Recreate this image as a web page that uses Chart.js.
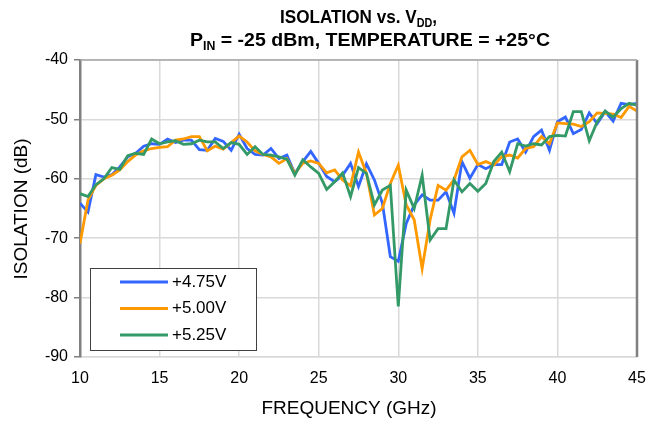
<!DOCTYPE html>
<html><head><meta charset="utf-8">
<script src="https://cdn.jsdelivr.net/npm/chart.js@4/dist/chart.umd.min.js"></script>
<style>html,body{margin:0;padding:0;background:#fff;}#wrap{width:659px;height:425px;}</style>
</head><body><div id="wrap"><canvas id="c" width="659" height="425"></canvas></div>
<script>
const frequencyGHz = [10,10.5,11,11.5,12,12.5,13,13.5,14,14.5,15,15.5,16,16.5,17,17.5,18,18.5,19,19.5,20,20.5,21,21.5,22,22.5,23,23.5,24,24.5,25,25.5,26,26.5,27,27.5,28,28.5,29,29.5,30,30.5,31,31.5,32,32.5,33,33.5,34,34.5,35,35.5,36,36.5,37,37.5,38,38.5,39,39.5,40,40.5,41,41.5,42,42.5,43,43.5,44,44.5,45];
const iso475 = [-64.1,-65.6,-59.3,-59.7,-59.3,-58.0,-56.3,-55.7,-54.5,-54.1,-54.2,-53.3,-53.9,-53.5,-53.5,-55.1,-55.2,-53.2,-53.7,-55.2,-52.5,-54.9,-55.9,-56.0,-54.9,-56.6,-56.0,-59.1,-57.1,-55.4,-57.4,-59.6,-60.5,-59.4,-57.4,-61.3,-57.5,-60.2,-64.1,-73.1,-73.9,-67.5,-64.4,-62.7,-63.6,-63.6,-62.2,-65.8,-57.1,-59.9,-57.6,-58.3,-57.6,-57.6,-53.8,-53.3,-55.5,-52.9,-51.8,-55.2,-50.4,-49.6,-52.4,-51.7,-48.9,-50.7,-48.7,-50.3,-47.3,-47.5,-47.3];
const iso500 = [-70.9,-63.6,-61.1,-60.0,-59.4,-58.5,-57.1,-56.0,-55.3,-54.9,-54.7,-54.6,-53.5,-53.3,-52.9,-52.9,-55.3,-54.5,-55.0,-53.9,-52.8,-53.8,-55.3,-55.9,-56.3,-57.4,-56.6,-59.1,-57.4,-57.0,-57.4,-59.0,-58.5,-60.2,-61.2,-55.5,-59.1,-66.1,-65.0,-60.8,-57.7,-64.4,-66.9,-75.1,-66.9,-61.1,-61.9,-60.2,-56.3,-55.2,-57.6,-57.1,-57.7,-56.3,-56.0,-56.5,-54.9,-54.6,-52.9,-54.1,-50.6,-50.7,-50.8,-51.2,-50.4,-48.9,-49.0,-49.1,-49.7,-47.8,-48.6];
const iso525 = [-62.5,-63.0,-61.0,-60.0,-58.1,-58.4,-56.1,-55.7,-55.9,-53.3,-54.1,-53.8,-53.6,-54.2,-54.1,-53.5,-53.8,-53.8,-54.9,-53.9,-54.2,-55.9,-54.6,-55.9,-56.0,-56.3,-56.7,-59.4,-56.8,-58.0,-59.1,-61.8,-60.5,-59.0,-63.0,-58.1,-59.1,-64.4,-61.9,-61.1,-81.5,-61.9,-65.0,-59.4,-70.3,-68.4,-68.4,-60.2,-62.2,-60.8,-62.1,-60.8,-57.1,-55.5,-58.8,-54.1,-54.5,-54.1,-54.3,-52.9,-52.7,-52.8,-48.7,-48.7,-53.6,-50.4,-48.6,-49.6,-48.2,-47.3,-47.6];
const seriesLabels = ['+4.75V','+5.00V','+5.25V'];
const seriesColors = ['#3366ff','#ff9900','#339966'];
const xTicks = [10,15,20,25,30,35,40,45];
const yTicks = [-90,-80,-70,-60,-50,-40];
const titleLine1 = [['ISOLATION vs. V',false],['DD',true],[',',false]];
const titleLine2 = [['P',false],['IN',true],[' = -25 dBm, TEMPERATURE = +25°C',false]];
const xTitle = 'FREQUENCY (GHz)';
const yTitle = 'ISOLATION (dB)';

const FONT = '"Liberation Sans", Arial, sans-serif';
const toPts = arr => frequencyGHz.map((f,i)=>({x:f,y:arr[i]}));
const seriesValues = [iso475, iso500, iso525];

const titlePlugin = {
  id:'subTitle',
  afterDraw(chart){
    const ctx = chart.ctx;
    const drawLine = (segs, baseY, left, targetW) => {
      let total = 0;
      segs.forEach(([t,sub])=>{ ctx.font = 'bold '+(sub?12:19)+'px '+FONT; total += ctx.measureText(t).width; });
      ctx.save();
      ctx.translate(left, baseY);
      ctx.scale(targetW/total, 1);
      let x = 0;
      segs.forEach(([t,sub])=>{
        ctx.font = 'bold '+(sub?12:19)+'px '+FONT;
        ctx.fillStyle = '#000'; ctx.textBaseline = 'alphabetic'; ctx.textAlign='left';
        ctx.fillText(t, x, sub?4:0);
        x += ctx.measureText(t).width;
      });
      ctx.restore();
    };
    drawLine(titleLine1, 23, 280, 157);
    drawLine(titleLine2, 46, 190, 360);
    // axis titles
    ctx.save();
    ctx.fillStyle = '#000';
    ctx.font = '19px '+FONT; ctx.textAlign='center'; ctx.textBaseline='middle';
    ctx.fillText(xTitle, 349, 409);
    ctx.translate(22, 209); ctx.rotate(-Math.PI/2);
    ctx.fillText(yTitle, 0, 0);
    ctx.restore();
  }
};

const framePlugin = {
  id:'frame',
  afterDatasetsDraw(chart){
    const {ctx, chartArea:a} = chart;
    ctx.save();
    ctx.strokeStyle = '#808080'; ctx.lineWidth = 2.5;
    ctx.beginPath(); ctx.moveTo(a.right, a.top); ctx.lineTo(a.right, a.bottom); ctx.stroke();
    ctx.strokeStyle = '#a6a6a6'; ctx.lineWidth = 1.5;
    ctx.beginPath(); ctx.moveTo(a.left, a.top); ctx.lineTo(a.right, a.top); ctx.stroke();
    ctx.restore();
  },
  afterDraw(chart){
    const {ctx} = chart;
    const bx = 90, by = 268, bw = 166, bh = 82;
    ctx.save();
    ctx.fillStyle = '#fff'; ctx.fillRect(bx, by, bw, bh);
    ctx.strokeStyle = '#404040'; ctx.lineWidth = 1;
    ctx.strokeRect(bx+0.5, by+0.5, bw, bh);
    ctx.font = '17px '+FONT; ctx.textBaseline = 'middle'; ctx.textAlign='left';
    seriesLabels.forEach((lab,i)=>{
      const y = 282 + i*26.5;
      ctx.strokeStyle = seriesColors[i]; ctx.lineWidth = 3;
      ctx.beginPath(); ctx.moveTo(120, y); ctx.lineTo(168, y); ctx.stroke();
      ctx.fillStyle = '#000'; ctx.fillText(lab, 172, y);
    });
    ctx.restore();
  }
};

const datasets = seriesValues.map((vals,i)=>({
  label: seriesLabels[i],
  data: toPts(vals),
  borderColor: seriesColors[i],
  backgroundColor: seriesColors[i],
  borderWidth: 2.8,
  pointRadius: 0,
  tension: 0,
  fill: false,
  order: 2 - i
}));

new Chart(document.getElementById('c'), {
  type: 'line',
  data: { datasets },
  options: {
    responsive: false,
    animation: false,
    devicePixelRatio: 1,
    layout: { padding: { top: 60, right: 22, left: 0, bottom: 0 } },
    plugins: { legend: { display: false }, tooltip: { enabled: false }, title: { display: false } },
    scales: {
      x: {
        type: 'linear', min: 10, max: 45,
        afterBuildTicks: s => { s.ticks = xTicks.map(v=>({value:v})); },
        afterFit: s => { s.height = 68; },
        ticks: { font: { size: 16, family: FONT }, color: '#000', padding: 12, maxRotation: 0 },
        grid: { color: '#d9d9d9', lineWidth: 1.5, drawTicks: false },
        border: { color: '#d9d9d9', width: 1.5 }
      },
      y: {
        type: 'linear', min: -90, max: -40,
        afterBuildTicks: s => { s.ticks = yTicks.map(v=>({value:v})); },
        afterFit: s => { s.width = 80; },
        ticks: { font: { size: 16, family: FONT }, color: '#000', padding: 6 },
        grid: { color: '#d9d9d9', lineWidth: 1.5, tickLength: 6, tickColor: '#808080', tickWidth: 1.5 },
        border: { color: '#808080', width: 2.5 }
      }
    }
  },
  plugins: [titlePlugin, framePlugin]
});
</script></body></html>
